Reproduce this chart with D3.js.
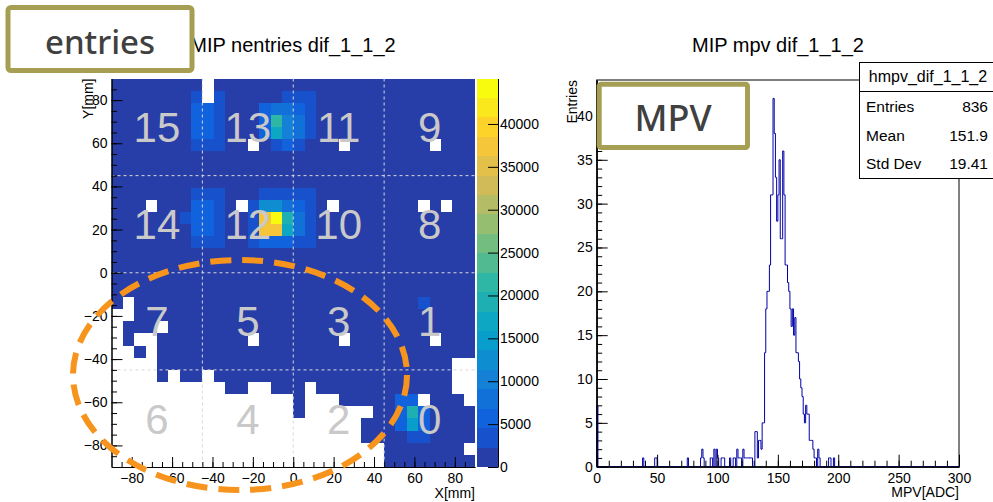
<!DOCTYPE html>
<html>
<head>
<meta charset="utf-8">
<script src="https://cdn.jsdelivr.net/npm/d3@7"></script>
<style>
  html, body { margin: 0; padding: 0; background: #fff; }
  svg { display: block; font-family: "Liberation Sans", Arial, Helvetica, sans-serif; }
</style>
</head>
<body>
<svg id="chart" width="993" height="502"></svg>
<script>
// ---------------- Left panel: MIP hit count per pad (32 x 32 pads, 5.625 mm) ----------------
// Occupancy per pad row, top row (Y = +90 mm) first; one group of 8 pads per chip.
// '#' = pad has entries, '.' = no entries.
const occupancyRows = [
  "######## .####### ######## ########",
  "######## .####### ######## ########",
  "######## ######## ######## ########",
  "######## ######## ######## ########",
  "######## ######## ######## ########",
  "######## ####.### ####.### ####.###",
  "######## ######## ######## ########",
  "######## ######## ######## ########",
  "######## ######## ######## ########",
  "######## ######## ######## ########",
  "###.#### ###.#### ###.#### ###.#.##",
  "######## ######## ######## ########",
  "######## ######## ######## ########",
  "######## ######## ######## ########",
  "######## ######## ######## ########",
  "######## ######## ######## ########",
  "######## ######## ######## ########",
  "######## ######## ######## ########",
  "#.###### ######## ######## ########",
  "..###### ######## ######## ########",
  ".###.### ######## ######## ########",
  ".#..#### ####.### ####.### ####.###",
  "..#.#### ######## ######## ########",
  "....#### ######## ######## ######..",
  "....#.## .####### ######## ######..",
  "........ ..##..## #.###### ######..",
  "........ ........ #...#### ###.###.",
  "........ ........ #......# ########",
  "........ ........ ......## ########",
  "........ ........ ......## ########",
  "........ ........ ........ #######.",
  "........ ........ ........ ########"
];

// Typical entries of an ordinary pad
const baseEntries = 1500;

// Pads with more entries: [column (0 = X -90), row (0 = Y -90), entries]
const hotCells = [
  // chips 15 / 14 edge
  [7, 30, 3500], [9, 30, 3500],
  [7, 29, 5600], [8, 29, 5600], [9, 29, 3500],
  [7, 28, 5600], [8, 28, 5600], [9, 28, 3500],
  [7, 27, 5600], [8, 27, 5600], [9, 27, 3500],
  [7, 26, 3500], [8, 26, 3500], [9, 26, 3500],
  [7, 22, 3500], [8, 22, 3500], [9, 22, 3500],
  [7, 21, 5600], [8, 21, 5600], [9, 21, 3500],
  [6, 20, 3500], [7, 20, 5600], [8, 20, 5600], [9, 20, 3500],
  [7, 19, 5600], [8, 19, 5600], [9, 19, 3500],
  [7, 18, 3500], [8, 18, 3500], [9, 18, 3500],
  // chip 13
  [15, 30, 3500], [16, 30, 3500], [17, 30, 3500],
  [13, 29, 5000], [14, 29, 7000], [15, 29, 9000], [16, 29, 6000], [17, 29, 4000],
  [13, 28, 6000], [14, 28, 21000], [15, 28, 11000], [16, 28, 8000], [17, 28, 4000],
  [13, 27, 6000], [14, 27, 16000], [15, 27, 10000], [16, 27, 7000], [17, 27, 4000],
  [14, 26, 4000], [15, 26, 5000], [16, 26, 4000],
  // chip 12
  [13, 22, 3500], [14, 22, 4000], [15, 22, 4000], [16, 22, 3500], [17, 22, 3500],
  [12, 21, 4000], [13, 21, 13000], [14, 21, 12000], [15, 21, 9000], [16, 21, 6000], [17, 21, 3500],
  [12, 20, 4000], [13, 20, 37000], [14, 20, 45300], [15, 20, 20000], [16, 20, 8000], [17, 20, 3500],
  [12, 19, 4000], [13, 19, 37000], [14, 19, 37000], [15, 19, 16000], [16, 19, 8000], [17, 19, 3500],
  [12, 18, 4000], [13, 18, 6000], [14, 18, 6000], [15, 18, 5000], [16, 18, 4000], [17, 18, 3500],
  // chip 1
  [27, 13, 3500],
  // chip 0
  [25, 5, 5000], [26, 5, 5000],
  [25, 4, 6000], [26, 4, 19000], [27, 4, 6000],
  [25, 3, 5000], [26, 3, 14000], [27, 3, 6000],
  [26, 2, 4500], [27, 2, 4500]
];

// Chip numbers, laid out as on the detector (top row first)
const chipIds = [
  [15, 13, 11, 9],
  [14, 12, 10, 8],
  [7, 5, 3, 1],
  [6, 4, 2, 0]
];

const padTicks = [-80, -60, -40, -20, 0, 20, 40, 60, 80];
const chipEdges = [-45, 0, 45];
const zTicks = [0, 5000, 10000, 15000, 20000, 25000, 30000, 35000, 40000];
const zMax = 45300;
const nContours = 20;

// ---------------- Right panel: MPV distribution (1 ADC bins, 0-300) ----------------
const mpvBins = [
  0, 38, 48, 49, 75, 86, 87, 88, 94, 95, 97, 99, 100, 103, 104, 105, 110, 113, 114,
  116, 117, 118, 119, 121, 122, 123, 124, 125, 126, 127, 128,
  131, 132, 133, 134, 135, 136, 137, 138,
  139, 140, 141, 142, 143, 144, 145, 146, 147, 148, 149, 150, 151, 152, 153, 154,
  155, 156, 157, 158, 159, 160, 161, 162, 163, 164, 165, 166, 167, 168, 169, 170,
  171, 172, 173, 174, 175, 176, 177, 178, 179, 180, 181, 183, 184, 192, 193, 196
];
const mpvCounts = [
  7, 1, 1, 1, 1, 1, 2, 1, 1, 1, 2, 2, 1, 1, 1, 1, 1, 1, 1,
  2, 1, 1, 1, 2, 1, 1, 1, 1, 1, 1, 1,
  4, 4, 1, 3, 3, 2, 5, 5,
  13, 18, 20, 20, 23, 31, 31, 42, 38, 33, 28, 31, 35, 26, 26, 36,
  31, 23, 23, 21, 20, 18, 16, 18, 15, 17, 13, 13, 12, 10, 9, 8,
  6, 5, 7, 6, 6, 3, 3, 3, 2, 1, 1, 2, 1, 1, 1, 1
];
const histXTicks = [0, 50, 100, 150, 200, 250, 300];
const histYTicks = [0, 5, 10, 15, 20, 25, 30, 35, 40];
const histYMax = 44.1;
const statsTitle = "hmpv_dif_1_1_2";
const statsRows = [["Entries", "836"], ["Mean", "151.9"], ["Std Dev", "19.41"]];

// ---------------- drawing ----------------
const svg = d3.select("#chart");
const FONT = 14;

// kBird palette (ROOT), 9 stops
const birdR = [0.2082, 0.0592, 0.0780, 0.0232, 0.1802, 0.5301, 0.8186, 0.9956, 0.9764];
const birdG = [0.1664, 0.3599, 0.5041, 0.6419, 0.7178, 0.7492, 0.7328, 0.7862, 0.9832];
const birdB = [0.5293, 0.8684, 0.8385, 0.7914, 0.6425, 0.4662, 0.3499, 0.1968, 0.0539];
const birdStops = d3.range(9).map(i => i / 8);
const birdScale = d3.scaleLinear()
  .domain(birdStops)
  .range(birdStops.map((s, i) => d3.rgb(birdR[i] * 255, birdG[i] * 255, birdB[i] * 255)))
  .interpolate(d3.interpolateRgb);
const bandColour = band => birdScale(Math.floor((band + 0.99) * 255 / nContours) / 254);
const zBand = v => Math.min(nContours - 1, Math.floor(0.01 + v * nContours / zMax));

// --- heat map ---
const hx = d3.scaleLinear().domain([-90, 90]).range([111.5, 475]);
const hy = d3.scaleLinear().domain([-90, 90]).range([467, 78.5]);
const nPads = 32;
const padSize = 180 / nPads;

const hotMap = new Map(hotCells.map(d => [d[0] + "," + d[1], d[2]]));
const cells = [];
occupancyRows.forEach((line, i) => {
  const row = nPads - 1 - i;
  line.replace(/ /g, "").split("").forEach((ch, col) => {
    if (ch !== "#") return;
    const v = hotMap.has(col + "," + row) ? hotMap.get(col + "," + row) : baseEntries;
    cells.push({ col, row, v });
  });
});

const gHeat = svg.append("g");
gHeat.selectAll("rect")
  .data(cells)
  .join("rect")
  .attr("x", d => hx(-90 + d.col * padSize))
  .attr("y", d => hy(-90 + (d.row + 1) * padSize))
  .attr("width", d => hx(-90 + (d.col + 1) * padSize) - hx(-90 + d.col * padSize))
  .attr("height", d => hy(-90 + d.row * padSize) - hy(-90 + (d.row + 1) * padSize))
  .attr("fill", d => bandColour(zBand(d.v)))
  .attr("shape-rendering", "crispEdges");

// chip boundaries
const gEdges = svg.append("g")
  .attr("stroke", "#d9d9d9").attr("stroke-width", 1).attr("stroke-dasharray", "3,3");
chipEdges.forEach(e => {
  gEdges.append("line").attr("x1", hx(e)).attr("x2", hx(e)).attr("y1", hy(90)).attr("y2", hy(-90));
  gEdges.append("line").attr("y1", hy(e)).attr("y2", hy(e)).attr("x1", hx(-90)).attr("x2", hx(90));
});

// chip numbers
const chipCentres = [-67.5, -22.5, 22.5, 67.5];
chipIds.forEach((rowIds, r) => {
  rowIds.forEach((id, c) => {
    svg.append("text")
      .attr("x", hx(chipCentres[c]))
      .attr("y", hy(chipCentres[3 - r]))
      .attr("dy", "0.36em")
      .attr("text-anchor", "middle")
      .attr("font-size", 42)
      .attr("fill", "#c9c9c9")
      .text(id);
  });
});

// axes of the heat map (ticks pointing inwards)
function styleAxis(g) {
  g.selectAll("path.domain").attr("stroke", "#000");
  g.selectAll("line").attr("stroke", "#000");
  g.selectAll("text").attr("fill", "#000").attr("font-size", FONT)
    .attr("font-family", "Liberation Sans, Arial, sans-serif");
}
const minorPad = d3.range(-85, 90, 5);
svg.append("g").attr("transform", `translate(0,${hy(-90)})`)
  .call(d3.axisBottom(hx).tickValues(minorPad).tickSize(-5).tickSizeOuter(0).tickFormat(""))
  .call(styleAxis);
svg.append("g").attr("transform", `translate(0,${hy(-90)})`)
  .call(d3.axisBottom(hx).tickValues(padTicks).tickSize(-10).tickSizeOuter(0).tickPadding(6))
  .call(styleAxis);
svg.append("g").attr("transform", `translate(${hx(-90)},0)`)
  .call(d3.axisLeft(hy).tickValues(minorPad).tickSize(-5.5).tickSizeOuter(0).tickFormat(""))
  .call(styleAxis);
svg.append("g").attr("transform", `translate(${hx(-90)},0)`)
  .call(d3.axisLeft(hy).tickValues(padTicks).tickSize(-11).tickSizeOuter(0).tickPadding(4))
  .call(styleAxis);

svg.append("text").attr("x", hx(90)).attr("y", 498).attr("text-anchor", "end")
  .attr("font-size", FONT).text("X[mm]");
svg.append("text").attr("transform", `translate(93,${hy(90)}) rotate(-90)`)
  .attr("text-anchor", "end").attr("font-size", FONT).text("Y[mm]");

// colour palette
const zScale = d3.scaleLinear().domain([0, zMax]).range([467, 78.5]);
const gPal = svg.append("g");
gPal.selectAll("rect")
  .data(d3.range(nContours))
  .join("rect")
  .attr("x", 477)
  .attr("width", 21)
  .attr("y", i => zScale(zMax * (i + 1) / nContours))
  .attr("height", i => zScale(zMax * i / nContours) - zScale(zMax * (i + 1) / nContours))
  .attr("fill", i => bandColour(i))
  .attr("shape-rendering", "crispEdges");
svg.append("g").attr("transform", "translate(498,0)")
  .call(d3.axisRight(zScale).tickValues(zTicks).tickSize(-10).tickSizeOuter(0).tickPadding(2).tickFormat(d3.format("d")))
  .call(styleAxis);

svg.append("text").attr("x", 293).attr("y", 52).attr("text-anchor", "middle")
  .attr("font-size", 20).text("MIP nentries dif_1_1_2");

// --- MPV histogram ---
const px = d3.scaleLinear().domain([0, 300]).range([596.7, 959]);
const py = d3.scaleLinear().domain([0, histYMax]).range([466.7, 80]);

const counts = new Array(300).fill(0);
mpvBins.forEach((b, i) => { counts[b] = mpvCounts[i]; });
const stepPts = [[0, 0]];
counts.forEach((c, b) => { stepPts.push([b, c]); stepPts.push([b + 1, c]); });
stepPts.push([300, 0]);

svg.append("rect").attr("x", px(0)).attr("y", py(histYMax))
  .attr("width", px(300) - px(0)).attr("height", py(0) - py(histYMax))
  .attr("fill", "none").attr("stroke", "#000").attr("stroke-width", 1);

svg.append("path")
  .datum(stepPts)
  .attr("d", d3.line().x(d => px(d[0])).y(d => py(d[1])))
  .attr("fill", "none")
  .attr("stroke", "#0000a8")
  .attr("stroke-width", 1);

svg.append("g").attr("transform", `translate(0,${py(0)})`)
  .call(d3.axisBottom(px).tickValues(d3.range(10, 300, 10)).tickSize(-6).tickSizeOuter(0).tickFormat(""))
  .call(styleAxis);
svg.append("g").attr("transform", `translate(0,${py(0)})`)
  .call(d3.axisBottom(px).tickValues(histXTicks).tickSize(-12).tickSizeOuter(0).tickPadding(6))
  .call(styleAxis);
svg.append("g").attr("transform", `translate(${px(0)},0)`)
  .call(d3.axisLeft(py).tickValues(d3.range(1, 44, 1)).tickSize(-5.5).tickSizeOuter(0).tickFormat(""))
  .call(styleAxis);
svg.append("g").attr("transform", `translate(${px(0)},0)`)
  .call(d3.axisLeft(py).tickValues(histYTicks).tickSize(-11).tickSizeOuter(0).tickPadding(4))
  .call(styleAxis);

svg.append("text").attr("x", px(300)).attr("y", 497).attr("text-anchor", "end")
  .attr("font-size", FONT).text("MPV[ADC]");
svg.append("text").attr("transform", `translate(577,${py(histYMax)}) rotate(-90)`)
  .attr("text-anchor", "end").attr("font-size", FONT).text("Entries");
svg.append("text").attr("x", 778).attr("y", 52).attr("text-anchor", "middle")
  .attr("font-size", 20).text("MIP mpv dif_1_1_2");

// statistics box
const gStats = svg.append("g");
gStats.append("rect").attr("x", 859.5).attr("y", 62.5).attr("width", 140).attr("height", 116)
  .attr("fill", "#fff").attr("stroke", "#000");
gStats.append("line").attr("x1", 859.5).attr("x2", 999).attr("y1", 91.5).attr("y2", 91.5).attr("stroke", "#000");
gStats.append("text").attr("x", 928).attr("y", 82).attr("text-anchor", "middle")
  .attr("font-size", 16).text(statsTitle);
statsRows.forEach((r, i) => {
  gStats.append("text").attr("x", 866).attr("y", 112 + i * 28.5).attr("font-size", 15.5).text(r[0]);
  gStats.append("text").attr("x", 988).attr("y", 112 + i * 28.5).attr("text-anchor", "end")
    .attr("font-size", 15.5).text(r[1]);
});

// ---------------- annotations ----------------
const olive = "#a69f53";
svg.append("rect").attr("x", 8).attr("y", 7.5).attr("width", 184).attr("height", 63).attr("rx", 3)
  .attr("fill", "#fff").attr("stroke", olive).attr("stroke-width", 5);
svg.append("text").attr("x", 100).attr("y", 54).attr("text-anchor", "middle")
  .attr("font-family", "Noto Sans, sans-serif").attr("font-weight", 500)
  .attr("font-size", 33).attr("fill", "#404040").text("entries");

svg.append("rect").attr("x", 599.2).attr("y", 84.2).attr("width", 148.3).attr("height", 63.3).attr("rx", 2)
  .attr("fill", "#fff").attr("stroke", olive).attr("stroke-width", 5);
svg.append("text").attr("x", 673).attr("y", 131).attr("text-anchor", "middle")
  .attr("font-family", "Noto Sans, sans-serif").attr("font-weight", 500)
  .attr("font-size", 36).attr("fill", "#404040").text("MPV");

svg.append("ellipse").attr("cx", 240).attr("cy", 375).attr("rx", 167).attr("ry", 115)
  .attr("fill", "none").attr("stroke", "#f7941d").attr("stroke-width", 6)
  .attr("stroke-dasharray", "21,11");
</script>
</body>
</html>
